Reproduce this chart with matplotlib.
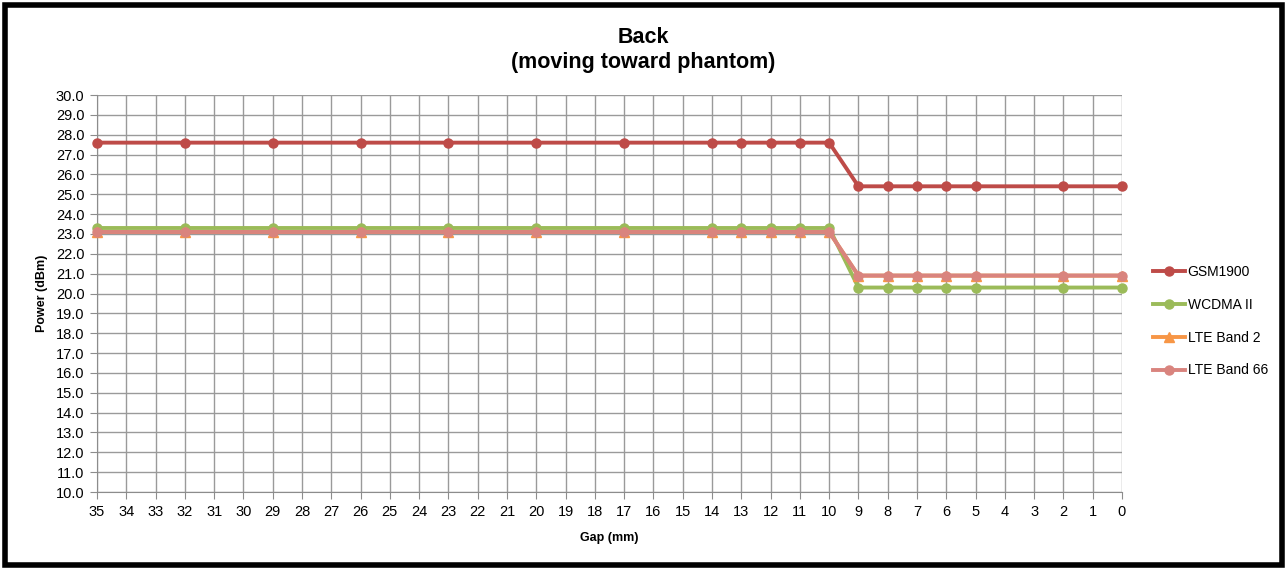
import matplotlib
matplotlib.use("Agg")
import matplotlib.pyplot as plt
from matplotlib.patches import Rectangle

gaps = [35, 32, 29, 26, 23, 20, 17, 14, 13, 12, 11, 10, 9, 8, 7, 6, 5, 2, 0]
gsm1900 = [27.6]*12 + [25.4]*7
wcdma2 = [23.3]*12 + [20.3]*7
lte_b2 = [23.1]*12 + [20.9]*7
lte_b66 = [23.1]*12 + [20.9]*7
series = [
    ("GSM1900", gsm1900, "#BE4B48", "o"),
    ("WCDMA II", wcdma2, "#9BBB59", "o"),
    ("LTE Band 2", lte_b2, "#F79646", "^"),
    ("LTE Band 66", lte_b66, "#D9847E", "o"),
]
x_ticks = list(range(35, -1, -1))
y_ticks = [10 + i for i in range(21)]

plt.rcParams['font.family'] = ['Liberation Sans', 'DejaVu Sans']
fig = plt.figure(figsize=(12.87, 5.70), dpi=100)
ax = fig.add_axes([97/1287, 1-492/570, (1122-97)/1287, (492-95)/570])

for name, vals, col, mk in series:
    ax.plot(gaps, vals, color=col, marker=mk, markersize=6.5, linewidth=2.8,
            label=name, zorder=3, clip_on=False)

ax.set_xlim(35, 0)
ax.set_ylim(10, 30)
ax.set_xticks(x_ticks)
ax.set_xticklabels([str(v) for v in x_ticks], fontsize=10.5)
ax.set_yticks(y_ticks)
ax.set_yticklabels([f"{v:.1f}" for v in y_ticks], fontsize=10.5)
ax.grid(True, color="#9A9A9A", linewidth=1.0)
ax.set_axisbelow(True)
for s in ["top", "right"]:
    ax.spines[s].set_visible(False)
for s in ["left", "bottom"]:
    ax.spines[s].set_color("#8C8C8C")
ax.tick_params(axis='both', length=5, color="#8C8C8C", pad=4)

ax.set_xlabel("Gap (mm)", fontsize=9, fontweight='bold', labelpad=10)
ax.set_ylabel("Power (dBm)", fontsize=9, fontweight='bold', labelpad=6)
fig.text(0.5, 1-50/570, "Back\n(moving toward phantom)", ha='center', va='center',
         fontsize=15.5, fontweight='bold', linespacing=1.3)

leg = ax.legend(loc='center left', bbox_to_anchor=(1.018, 0.43), frameon=False,
                fontsize=10, handlelength=2.3, labelspacing=1.35, handletextpad=0.2)

fig.patches.append(Rectangle((5/1287, 5/570), 1-10/1287, 1-10/570, transform=fig.transFigure,
                             fill=False, edgecolor='black', linewidth=4, zorder=10))
fig.savefig("out.png", dpi=100)
